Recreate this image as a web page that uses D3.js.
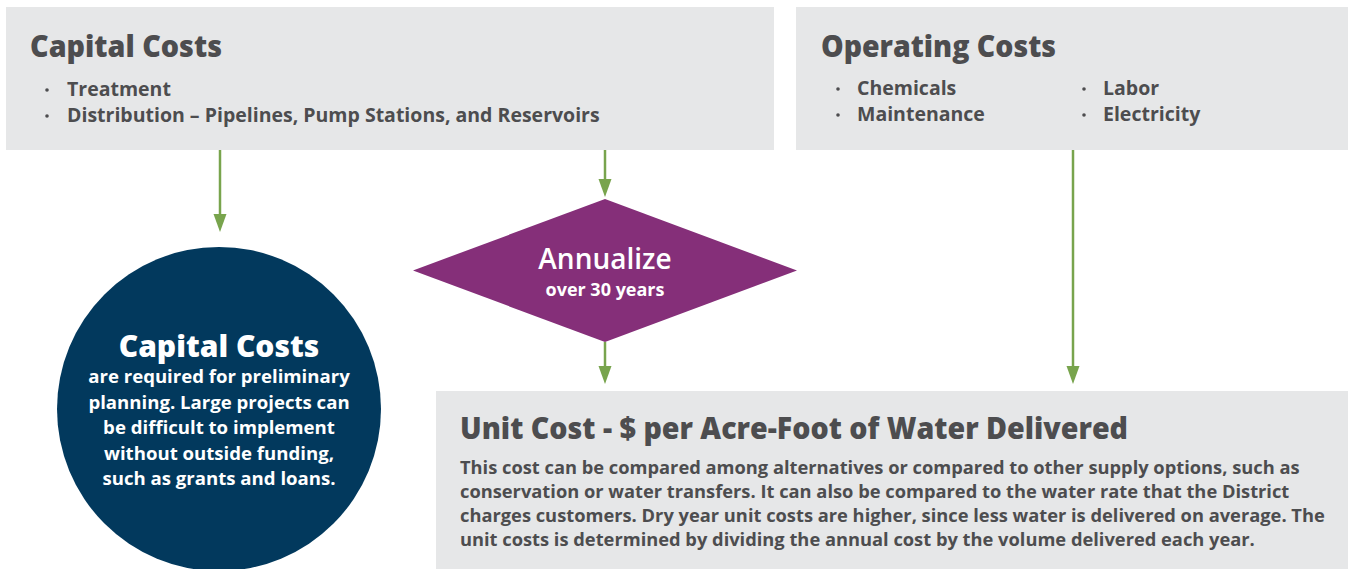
<!DOCTYPE html>
<html>
<head>
<meta charset="utf-8">
<script src="https://cdn.jsdelivr.net/npm/d3@7"></script>
<style>
  body { margin: 0; background: #fff; }
  text { font-family: "Open Sans", "Noto Sans", sans-serif; }
</style>
</head>
<body>
<script>
// content
const capitalTitle = "Capital Costs";
const capitalItems = ["Treatment", "Distribution – Pipelines, Pump Stations, and Reservoirs"];
const operatingTitle = "Operating Costs";
const operatingCols = [["Chemicals", "Maintenance"], ["Labor", "Electricity"]];
const annualizeLines = ["Annualize", "over 30 years"];
const circleTitle = "Capital Costs";
const circleLines = [
  "are required for preliminary",
  "planning. Large projects can",
  "be difficult to implement",
  "without outside funding,",
  "such as grants and loans."
];
const unitTitle = "Unit Cost - $ per Acre-Foot of Water Delivered";
const unitLines = [
  "This cost can be compared among alternatives or compared to other supply options, such as",
  "conservation or water transfers. It can also be compared to the water rate that the District",
  "charges customers. Dry year unit costs are higher, since less water is delivered on average. The",
  "unit costs is determined by dividing the annual cost by the volume delivered each year."
];

const width = 1348, height = 569;
const grey = "#e6e7e8", ink = "#4d4d4f", green = "#78a44d", purple = "#852f79", navy = "#02395d";

const svg = d3.select("body")
    .append("svg")
    .attr("width", width)
    .attr("height", height)

// squeeze text to a target width if it runs long
let fit = (sel, maxW) => {
    sel.each(function() {
        let w = this.getComputedTextLength()
        if (w > maxW) d3.select(this).attr("textLength", maxW).attr("lengthAdjust", "spacingAndGlyphs")
    })
}

// boxes
svg.append("rect").attr("x", 6).attr("y", 7).attr("width", 768).attr("height", 143).attr("fill", grey)
svg.append("rect").attr("x", 796).attr("y", 7).attr("width", 552).attr("height", 143).attr("fill", grey)
svg.append("rect").attr("x", 436).attr("y", 391).attr("width", 912).attr("height", 178).attr("fill", grey)

// arrows
let arrow = (x, y1, y2) => {
    svg.append("line")
        .attr("x1", x).attr("x2", x).attr("y1", y1).attr("y2", y2 - 16)
        .attr("stroke", green).attr("stroke-width", 2.5)
    svg.append("path")
        .attr("d", `M${x - 6.5},${y2 - 18}L${x + 6.5},${y2 - 18}L${x},${y2}Z`)
        .attr("fill", green)
}
arrow(220, 150, 232)
arrow(605, 150, 197)
arrow(605, 342, 384)
arrow(1073, 150, 384)

// capital costs box
svg.append("text").attr("x", 30).attr("y", 57).text(capitalTitle)
    .attr("font-size", 29.5).attr("font-weight", 800).attr("fill", ink).call(fit, 192)
let cap = svg.append("g").selectAll("g").data(capitalItems).enter().append("g")
    .attr("transform", (d, i) => `translate(0, ${96 + i * 26})`)
cap.append("circle").attr("cx", 47).attr("cy", -6).attr("r", 1.8).attr("fill", ink)
cap.append("text").attr("x", 67).text(d => d)
    .attr("font-size", 19.5).attr("font-weight", 700).attr("fill", ink)
    .call(fit, 535)

// operating costs box
svg.append("text").attr("x", 821).attr("y", 57).text(operatingTitle)
    .attr("font-size", 29.5).attr("font-weight", 800).attr("fill", ink).call(fit, 235)
operatingCols.forEach((col, c) => {
    let g = svg.append("g").selectAll("g").data(col).enter().append("g")
        .attr("transform", (d, i) => `translate(${c * 246}, ${95 + i * 26})`)
    g.append("circle").attr("cx", 838).attr("cy", -6).attr("r", 1.8).attr("fill", ink)
    g.append("text").attr("x", 857).text(d => d)
        .attr("font-size", 19.5).attr("font-weight", 700).attr("fill", ink)
})

// annualize diamond
let cx = 605, cy = 270.5
svg.append("path")
    .attr("d", `M${cx},199L797,${cy}L${cx},342L413,${cy}Z`)
    .attr("fill", purple)
svg.append("text").attr("x", cx).attr("y", 269).attr("text-anchor", "middle").text(annualizeLines[0])
    .attr("font-size", 28).attr("font-weight", 600).attr("fill", "#fff")
svg.append("text").attr("x", cx).attr("y", 296).attr("text-anchor", "middle").text(annualizeLines[1])
    .attr("font-size", 18).attr("font-weight", 700).attr("fill", "#fff")

// circle
svg.append("circle").attr("cx", 219).attr("cy", 409).attr("r", 162).attr("fill", navy)
svg.append("text").attr("x", 219).attr("y", 357).attr("text-anchor", "middle").text(circleTitle)
    .attr("font-size", 30).attr("font-weight", 800).attr("fill", "#fff")
svg.append("g").selectAll("text").data(circleLines).enter().append("text")
    .attr("x", 219).attr("y", (d, i) => 383 + i * 25.5)
    .attr("text-anchor", "middle").text(d => d)
    .attr("font-size", 18.6).attr("font-weight", 700).attr("fill", "#fff")

// unit cost box
svg.append("text").attr("x", 460).attr("y", 439).text(unitTitle)
    .attr("font-size", 30).attr("font-weight", 800).attr("fill", ink).call(fit, 668)
svg.append("g").selectAll("text").data(unitLines).enter().append("text")
    .attr("x", 460).attr("y", (d, i) => 474 + i * 24)
    .text(d => d)
    .attr("font-size", 18.3).attr("font-weight", 700).attr("fill", ink)
    .call(fit, 874)
</script>
</body>
</html>
